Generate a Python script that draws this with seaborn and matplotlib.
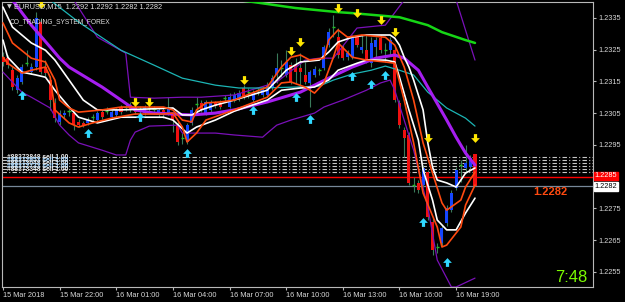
import numpy as np
import pandas as pd
import matplotlib
matplotlib.use("Agg")
import matplotlib.pyplot as plt
import seaborn as sns
from matplotlib.path import Path
from matplotlib.transforms import blended_transform_factory

# ---------------- data (EURUSD M15, one value per bar) ----------------
opens = [1.23226, 1.23223, 1.23185, 1.23122, 1.23148, 1.23204, 1.23179, 1.23195, 1.23337, 1.23195,
         1.23154, 1.23082, 1.23022, 1.23044, 1.23053, 1.23050, 1.23022, 1.23019, 1.23019, 1.23034,
         1.23028, 1.23053, 1.23053, 1.23037, 1.23044, 1.23069, 1.23066, 1.23075, 1.23069, 1.23060,
         1.23050, 1.23063, 1.23060, 1.23044, 1.23060, 1.23050, 1.23044, 1.23012, 1.22968, 1.22959,
         1.23019, 1.23075, 1.23082, 1.23050, 1.23060, 1.23082, 1.23082, 1.23094, 1.23069, 1.23091,
         1.23094, 1.23129, 1.23113, 1.23091, 1.23119, 1.23107, 1.23107, 1.23129, 1.23170, 1.23189,
         1.23170, 1.23201, 1.23201, 1.23192, 1.23170, 1.23145, 1.23170, 1.23182, 1.23192, 1.23264,
         1.23318, 1.23289, 1.23258, 1.23226, 1.23226, 1.23289, 1.23248, 1.23248, 1.23207, 1.23258,
         1.23286, 1.23245, 1.23248, 1.23248, 1.23082, 1.22997, 1.22981, 1.22820, 1.22830, 1.22823,
         1.22864, 1.22707, 1.22625, 1.22641, 1.22704, 1.22744, 1.22814, 1.22883, 1.22877, 1.22880,
         1.22920]
highs = [1.23242, 1.23233, 1.23198, 1.23170, 1.23204, 1.23248, 1.23207, 1.23368, 1.23349, 1.23217,
         1.23167, 1.23097, 1.23060, 1.23060, 1.23069, 1.23056, 1.23031, 1.23025, 1.23037, 1.23047,
         1.23056, 1.23060, 1.23069, 1.23060, 1.23066, 1.23075, 1.23078, 1.23085, 1.23075, 1.23072,
         1.23075, 1.23072, 1.23072, 1.23066, 1.23066, 1.23100, 1.23053, 1.23028, 1.22987, 1.23019,
         1.23069, 1.23100, 1.23091, 1.23091, 1.23091, 1.23088, 1.23091, 1.23107, 1.23113, 1.23116,
         1.23122, 1.23138, 1.23129, 1.23122, 1.23129, 1.23132, 1.23148, 1.23170, 1.23239, 1.23217,
         1.23248, 1.23211, 1.23223, 1.23239, 1.23211, 1.23185, 1.23198, 1.23192, 1.23264, 1.23318,
         1.23359, 1.23318, 1.23264, 1.23248, 1.23296, 1.23296, 1.23296, 1.23296, 1.23289, 1.23289,
         1.23296, 1.23271, 1.23289, 1.23258, 1.23091, 1.23006, 1.22990, 1.22848, 1.22839, 1.22886,
         1.22871, 1.22722, 1.22641, 1.22697, 1.22760, 1.22808, 1.22880, 1.22902, 1.22949, 1.22918,
         1.22920]
lows = [1.23198, 1.23192, 1.23122, 1.23113, 1.23141, 1.23198, 1.23173, 1.23185, 1.23173, 1.23167,
        1.23060, 1.23022, 1.23012, 1.23034, 1.23041, 1.22997, 1.23006, 1.23006, 1.23012, 1.23022,
        1.23022, 1.23031, 1.23047, 1.23031, 1.23037, 1.23047, 1.23056, 1.23053, 1.23047, 1.23050,
        1.23044, 1.23056, 1.23050, 1.23037, 1.23034, 1.23044, 1.22990, 1.22949, 1.22952, 1.22952,
        1.23012, 1.23050, 1.23053, 1.23044, 1.23053, 1.23066, 1.23063, 1.23085, 1.23066, 1.23085,
        1.23088, 1.23094, 1.23097, 1.23085, 1.23107, 1.23100, 1.23100, 1.23122, 1.23145, 1.23163,
        1.23163, 1.23141, 1.23145, 1.23132, 1.23141, 1.23069, 1.23163, 1.23170, 1.23185, 1.23258,
        1.23289, 1.23223, 1.23217, 1.23217, 1.23220, 1.23258, 1.23239, 1.23207, 1.23195, 1.23226,
        1.23239, 1.23211, 1.23233, 1.23085, 1.23003, 1.22911, 1.22823, 1.22801, 1.22798, 1.22817,
        1.22713, 1.22603, 1.22609, 1.22631, 1.22694, 1.22738, 1.22808, 1.22833, 1.22861, 1.22871,
        1.22820]
closes = [1.23211, 1.23201, 1.23132, 1.23160, 1.23195, 1.23207, 1.23195, 1.23349, 1.23179, 1.23176,
          1.23091, 1.23034, 1.23050, 1.23050, 1.23056, 1.23012, 1.23012, 1.23012, 1.23028, 1.23037,
          1.23050, 1.23037, 1.23056, 1.23053, 1.23060, 1.23053, 1.23069, 1.23060, 1.23053, 1.23063,
          1.23069, 1.23066, 1.23063, 1.23060, 1.23044, 1.23066, 1.23028, 1.22959, 1.22971, 1.23012,
          1.23060, 1.23078, 1.23060, 1.23085, 1.23082, 1.23072, 1.23069, 1.23097, 1.23100, 1.23107,
          1.23113, 1.23100, 1.23116, 1.23113, 1.23122, 1.23122, 1.23138, 1.23160, 1.23192, 1.23192,
          1.23211, 1.23148, 1.23179, 1.23179, 1.23148, 1.23179, 1.23189, 1.23185, 1.23258, 1.23305,
          1.23321, 1.23233, 1.23223, 1.23239, 1.23286, 1.23264, 1.23258, 1.23211, 1.23271, 1.23280,
          1.23248, 1.23248, 1.23280, 1.23091, 1.23012, 1.22971, 1.22830, 1.22823, 1.22808, 1.22877,
          1.22722, 1.22618, 1.22628, 1.22688, 1.22751, 1.22798, 1.22871, 1.22886, 1.22893, 1.22908,
          1.22820]

# indicator lines: bar index -> price
green_idx = [42, 53, 62, 71, 74, 84, 90, 93, 98, 100]
green_val = [1.23420, 1.23400, 1.23381, 1.23368, 1.23365, 1.23352, 1.23327, 1.23305, 1.23280, 1.23271]

cyan_idx = [6, 10, 16, 25, 32, 38, 45, 50, 55, 62, 67, 70, 74, 78, 81, 84, 87, 90, 94, 98, 100]
cyan_val = [1.23450, 1.23406, 1.23337, 1.23248, 1.23201, 1.23160, 1.23138, 1.23129, 1.23129, 1.23132,
            1.23135, 1.23154, 1.23173, 1.23185, 1.23198, 1.23185, 1.23170, 1.23116, 1.23066, 1.23034,
            1.23009]

band_up_idx = [13, 15, 20, 26, 27, 32, 38, 42, 49, 56, 58, 64, 67, 70, 75, 81, 85, 88, 93, 96, 98, 100]
band_up_val = [1.23440, 1.23406, 1.23289, 1.23239, 1.23100, 1.23097, 1.23100, 1.23100, 1.23107, 1.23138,
               1.23148, 1.23217, 1.23223, 1.23223, 1.23318, 1.23327, 1.23406, 1.23460, 1.23470, 1.23406,
               1.23311, 1.23217]

band_dn_idx = [0, 4, 6, 10, 12, 14, 16, 21, 24, 26, 27, 28, 31, 37, 38, 45, 49, 55, 56, 58, 61, 66,
               68, 72, 77, 80, 82, 83, 87, 90, 92, 95, 96, 100]
band_dn_val = [1.23179, 1.23116, 1.23100, 1.23066, 1.23012, 1.22981, 1.22956, 1.22933, 1.22918, 1.22918,
               1.22965, 1.22990, 1.23009, 1.23012, 1.22987, 1.22987, 1.22981, 1.22974, 1.22987, 1.23012,
               1.23028, 1.23050, 1.23069, 1.23091, 1.23122, 1.23145, 1.23154, 1.23122, 1.22933, 1.22754,
               1.22587, 1.22502, 1.22502, 1.22530]

ma_idx = [2, 6, 10, 12, 14, 21, 25, 28, 32, 40, 45, 49, 56, 63, 69, 74, 79, 83, 85, 88, 90, 94, 96, 98, 100]
ma_val = [1.23406, 1.23327, 1.23258, 1.23223, 1.23195, 1.23132, 1.23091, 1.23060, 1.23050, 1.23044,
          1.23050, 1.23060, 1.23085, 1.23116, 1.23160, 1.23195, 1.23223, 1.23233, 1.23223, 1.23185,
          1.23132, 1.23028, 1.22974, 1.22924, 1.22886]

white_up_idx = [0, 2, 6, 9, 11, 14, 17, 20, 25, 31, 36, 38, 40, 42, 45, 49, 56, 60, 63, 67, 69, 71, 74,
                77, 82, 83, 84, 85, 86, 87, 89, 90, 91, 92, 94, 96, 98, 100]
white_up_val = [1.23384, 1.23321, 1.23271, 1.23248, 1.23217, 1.23154, 1.23091, 1.23060, 1.23060, 1.23063,
                1.23066, 1.23044, 1.23044, 1.23060, 1.23075, 1.23091, 1.23122, 1.23185, 1.23211, 1.23217,
                1.23242, 1.23274, 1.23289, 1.23296, 1.23296, 1.23286, 1.23264, 1.23226, 1.23195, 1.23154,
                1.23060, 1.22956, 1.22880, 1.22839, 1.22830, 1.22817, 1.22861, 1.22877]

white_dn_idx = [0, 1, 4, 7, 9, 11, 14, 16, 20, 25, 34, 36, 39, 41, 45, 49, 56, 59, 63, 66, 69, 71, 75,
                77, 81, 83, 84, 86, 88, 89, 91, 92, 94, 96, 98, 100]
white_dn_val = [1.23280, 1.23226, 1.23179, 1.23170, 1.23163, 1.23122, 1.23069, 1.23037, 1.23019, 1.23037,
                1.23037, 1.23028, 1.22987, 1.23006, 1.23028, 1.23056, 1.23091, 1.23122, 1.23129, 1.23132,
                1.23154, 1.23185, 1.23207, 1.23217, 1.23217, 1.23211, 1.23163, 1.23060, 1.22965, 1.22871,
                1.22776, 1.22713, 1.22682, 1.22682, 1.22735, 1.22782]

orange_up_idx = [0, 2, 6, 9, 11, 12, 14, 16, 21, 25, 34, 36, 38, 40, 41, 43, 46, 49, 56, 59, 61, 63, 65,
                 68, 69, 71, 73, 76, 81, 83, 85, 87, 89, 91, 93, 94, 97, 98, 100]
orange_up_val = [1.23334, 1.23271, 1.23223, 1.23211, 1.23154, 1.23091, 1.23066, 1.23053, 1.23060, 1.23069,
                 1.23069, 1.23060, 1.23028, 1.23022, 1.23060, 1.23082, 1.23085, 1.23091, 1.23132, 1.23195,
                 1.23226, 1.23233, 1.23217, 1.23223, 1.23280, 1.23312, 1.23289, 1.23296, 1.23289, 1.23264,
                 1.23195, 1.23091, 1.22956, 1.22861, 1.22767, 1.22744, 1.22776, 1.22817, 1.22864]

orange_dn_idx = [0, 1, 4, 6, 9, 10, 11, 14, 16, 19, 23, 28, 34, 36, 38, 39, 41, 43, 49, 56, 59, 61, 64,
                 66, 68, 70, 71, 74, 77, 81, 83, 85, 87, 89, 92, 93, 94, 97, 98, 100]
orange_dn_val = [1.23226, 1.23207, 1.23176, 1.23185, 1.23195, 1.23163, 1.23060, 1.23019, 1.23006, 1.23019,
                 1.23034, 1.23047, 1.23047, 1.23050, 1.23006, 1.22959, 1.22987, 1.23028, 1.23060, 1.23100,
                 1.23145, 1.23148, 1.23132, 1.23113, 1.23145, 1.23226, 1.23271, 1.23226, 1.23217, 1.23211,
                 1.23207, 1.23091, 1.22956, 1.22798, 1.22691, 1.22628, 1.22634, 1.22691, 1.22760, 1.22823]

sell_idx = [8, 28, 31, 51, 61, 63, 71, 75, 80, 83, 90, 100]
sell_val = [1.23393, 1.23085, 1.23085, 1.23154, 1.23245, 1.23274, 1.23381, 1.23365, 1.23343, 1.23305,
            1.22971, 1.22971]
buy_idx = [4, 18, 29, 39, 53, 62, 65, 74, 78, 81, 89, 94]
buy_val = [1.23107, 1.22987, 1.23037, 1.22924, 1.23060, 1.23100, 1.23031, 1.23167, 1.23141, 1.23170,
           1.22707, 1.22581]

order_levels = [1.22911, 1.22902, 1.22893, 1.22883, 1.22874, 1.22864]
order_labels = ["#88373848 sell 1.00", "#88372953 sell 1.00", "#88373048 sell 1.00",
                "#88372733 sell 1.00", "#88373348 sell 1.00"]
red_level = 1.2285
bid_level = 1.2282

y_ticks = [1.2255, 1.2265, 1.2275, 1.2285, 1.2295, 1.2305, 1.2315, 1.2325, 1.2335]
x_tick_idx = [0, 12, 24, 36, 48, 60, 72, 84, 96]
x_tick_labels = ["15 Mar 2018", "15 Mar 22:00", "16 Mar 01:00", "16 Mar 04:00", "16 Mar 07:00",
                 "16 Mar 10:00", "16 Mar 13:00", "16 Mar 16:00", "16 Mar 19:00"]
title_text = "EURUSD,M15  1.2292 1.2292 1.2282 1.2282"
system_text = "CO_TRADING_SYSTEM_FOREX"
price_text = "1.2282"
timer_text = "7:48"

# ---------------- styling ----------------
sns.set_style("dark", rc={"axes.facecolor": "black", "figure.facecolor": "black"})
plt.rcParams["font.family"] = ["Liberation Sans", "DejaVu Sans"]

W, H = 625, 302
fig = plt.figure(figsize=(W / 100, H / 100), dpi=100, facecolor="black")
ax = fig.add_axes([2 / W, 15 / H, 591 / W, 285 / H])
ax.set_facecolor("black")

BLUE = "#1446FF"
RED = "#F01010"
WICK = "#3A7A5A"
DOJI = "#22C022"

idx = np.arange(len(opens))
o = np.array(opens)
c = np.array(closes)
doji = np.abs(c - o) < 0.00004
up = (c > o) & ~doji
dn = (c < o) & ~doji

ax.vlines(idx, lows, highs, color=WICK, lw=0.8, zorder=2)
ax.bar(idx[up], (c - o)[up], bottom=o[up], width=0.64, color=BLUE, lw=0, zorder=3)
ax.bar(idx[dn], (o - c)[dn], bottom=c[dn], width=0.64, color=RED, lw=0, zorder=3)
ax.hlines(c[doji], idx[doji] - 0.35, idx[doji] + 0.35, color=DOJI, lw=1.0, zorder=3)

# order / price lines
for lv in order_levels:
    ax.axhline(lv, color="#C8C8C8", lw=0.8, ls=(0, (4, 2, 1, 2)), zorder=1)
ax.axhline(red_level, color="#FF0000", lw=1.0, zorder=1)
ax.axhline(bid_level, color="#778899", lw=0.9, zorder=1)

def line(xs, ys, color, lw, z=4):
    df = pd.DataFrame({"i": xs, "p": ys})
    sns.lineplot(data=df, x="i", y="p", color=color, lw=lw, ax=ax, estimator=None,
                 sort=False, zorder=z)

line(band_up_idx, band_up_val, "#7A10B8", 0.9)
line(band_dn_idx, band_dn_val, "#7A10B8", 0.9)
line(cyan_idx, cyan_val, "#1CB5B5", 0.9)
line(green_idx, green_val, "#16D616", 1.8)
line(ma_idx, ma_val, "#A61EF0", 2.2)
line(white_dn_idx, white_dn_val, "#FFFFFF", 1.2)
line(orange_dn_idx, orange_dn_val, "#FF4A10", 1.2)
line(white_up_idx, white_up_val, "#FFFFFF", 1.2)
line(orange_up_idx, orange_up_val, "#FF4A10", 1.2)

# arrows
down_arrow = Path([(-0.22, 0.6), (0.22, 0.6), (0.22, 0.05), (0.6, 0.05), (0.0, -0.6),
                   (-0.6, 0.05), (-0.22, 0.05), (-0.22, 0.6)], closed=True)
up_arrow = Path([(-0.22, -0.6), (0.22, -0.6), (0.22, -0.05), (0.6, -0.05), (0.0, 0.6),
                 (-0.6, -0.05), (-0.22, -0.05), (-0.22, -0.6)], closed=True)
sns.scatterplot(x=sell_idx, y=sell_val, marker=down_arrow, s=40, color="#FFE600",
                linewidth=0, ax=ax, zorder=6)
sns.scatterplot(x=buy_idx, y=buy_val, marker=up_arrow, s=40, color="#30D8FF",
                linewidth=0, ax=ax, zorder=6)

# order labels (overlapping, as in terminal)
lab_cols = ["#E8E8E8", "#9FD4FF", "#E8E8E8", "#9FD4FF", "#E8E8E8"]
for k, t in enumerate(order_labels):
    ax.text(0.9, order_levels[k] - 0.00002, t, fontsize=4.8, color=lab_cols[k],
            va="center", ha="left", zorder=7, fontweight="bold")

# axes limits and ticks
ax.set_xlim(-0.21, 125.0)
ax.set_ylim(1.22502, 1.23400)
ax.set_xlabel("")
ax.set_ylabel("")
ax.grid(False)
for s in ax.spines.values():
    s.set_visible(True)
    s.set_color("#B8B8B8")
    s.set_linewidth(0.8)

ax.yaxis.tick_right()
ax.set_yticks(y_ticks)
# the 1.2285 level label is covered by the red price box (as in the terminal)
ax.set_yticklabels(["" if abs(v - red_level) < 1e-6 else f"{v:.4f}" for v in y_ticks])
ax.tick_params(axis="y", colors="#B8B8B8", labelcolor="#D8D8D8", labelsize=5.3,
               length=2.5, width=0.8, pad=1.5, direction="out", right=True, left=False)
ax.set_xticks(x_tick_idx)
ax.set_xticklabels(x_tick_labels)
ax.tick_params(axis="x", colors="#B8B8B8", labelcolor="#D8D8D8", labelsize=5.3,
               length=2, width=0.8, pad=1.5, direction="out", bottom=True)
for lbl in ax.get_xticklabels():
    lbl.set_ha("left")

# right-side price boxes
tr = blended_transform_factory(ax.transAxes, ax.transData)
ax.text(1.003, red_level + 0.00002, "1.2285", transform=tr, fontsize=5.3, color="white",
        va="center", ha="left", clip_on=False,
        bbox=dict(boxstyle="square,pad=0.12", fc="#FF0000", ec="#FF0000"))
ax.text(1.003, bid_level - 0.00002, "1.2282", transform=tr, fontsize=5.3, color="black",
        va="center", ha="left", clip_on=False,
        bbox=dict(boxstyle="square,pad=0.12", fc="#FFFFFF", ec="#FFFFFF"))

# header texts
fig.text(7 / W, 1 - 6.5 / H, "\u25BC", fontsize=4.5, color="#D0D0D0", va="center",
         family=["DejaVu Sans"])
fig.text(14 / W, 1 - 6.5 / H, title_text, fontsize=5.3, color="#E0E0E0", va="center")
fig.text(10 / W, 1 - 22 / H, system_text, fontsize=4.8, color="#E0E0E0", va="center")
fig.text(533 / W, 1 - 192 / H, price_text, fontsize=8, color="#FF4A10", va="center",
         fontweight="bold")
fig.text(555 / W, 1 - 277 / H, timer_text, fontsize=12, color="#7CFC00", va="center")

fig.savefig("out.png", dpi=100, facecolor="black")
